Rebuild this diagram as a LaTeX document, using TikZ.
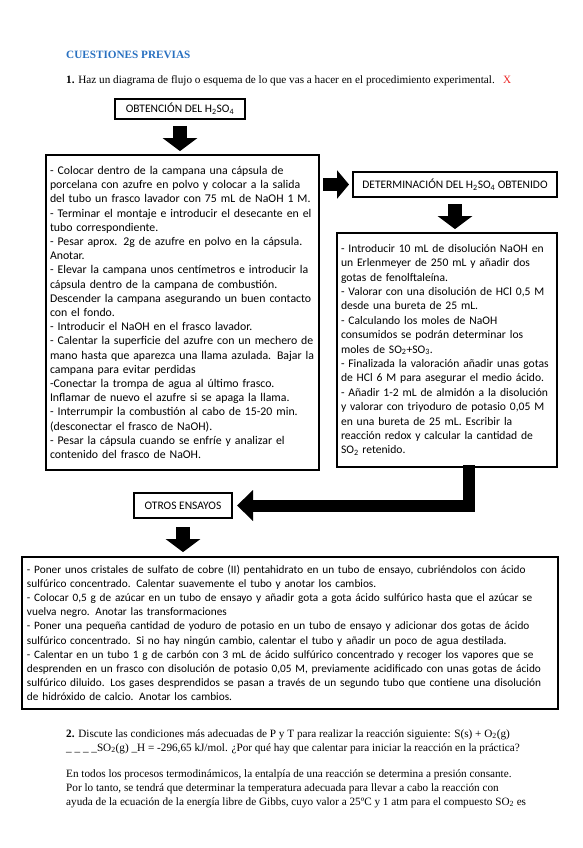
\documentclass[tikz,border=0pt]{standalone}
\usepackage{fontspec}
\setmainfont{Liberation Serif}
\newfontfamily\calibri{Carlito}
\usetikzlibrary{arrows.meta}

\definecolor{titleblue}{RGB}{40,112,192}
\definecolor{markred}{RGB}{235,35,35}

\tikzset{
  stepbox/.style={draw=black, line width=1.8pt, align=left, inner xsep=4pt, inner ysep=0pt,
    font=\calibri\fontsize{11.3}{14.2}\selectfont},
  headbox/.style={draw=black, line width=2pt, inner sep=0pt, font=\calibri\fontsize{11.5}{13}\selectfont},
  blockarrow/.style={line width=14pt, -{Triangle[width=34pt,length=13pt]}},
  qline/.style={anchor=base west, inner sep=0pt, font=\fontsize{11.2}{13}\selectfont},
}

\begin{document}
\begin{tikzpicture}[x=1pt, y=-1pt]
\useasboundingbox (0,0) rectangle (582,848);

\node[qline, font=\bfseries\fontsize{11.2}{12}\selectfont, text=titleblue] (cuest) at (66,59) {CUESTIONES PREVIAS};
\node[qline] (q1) at (66,84) {\textbf{1.} Haz un diagrama de flujo o esquema de lo que vas a hacer en el procedimiento experimental.};
\node[qline, text=markred] (mark) at ([xshift=8pt]q1.base east) {X};

% boxes
\node[headbox, minimum width=130pt, minimum height=20pt] (obt) at (180,109) {OBTENCIÓN DEL H\textsubscript{2}SO\textsubscript{4}};
\node[stepbox, text width=265pt, minimum height=315pt, font=\calibri\fontsize{11.8}{14.2}\selectfont] (proc) at (182.5,312.5) {%
- Colocar dentro de la campana una cápsula de\\
porcelana con azufre en polvo y colocar a la salida\\
del tubo un frasco lavador con 75 mL de NaOH 1 M.\\
- Terminar el montaje e introducir el desecante en el\\
tubo correspondiente.\\
- Pesar aprox. 2g de azufre en polvo en la cápsula.\\
Anotar.\\
- Elevar la campana unos centímetros e introducir la\\
cápsula dentro de la campana de combustión.\\
Descender la campana asegurando un buen contacto\\
con el fondo.\\
- Introducir el NaOH en el frasco lavador.\\
- Calentar la superficie del azufre con un mechero de\\
mano hasta que aparezca una llama azulada. Bajar la\\
campana para evitar perdidas\\
-Conectar la trompa de agua al último frasco.\\
Inflamar de nuevo el azufre si se apaga la llama.\\
- Interrumpir la combustión al cabo de 15-20 min.\\
(desconectar el frasco de NaOH).\\
- Pesar la cápsula cuando se enfríe y analizar el\\
contenido del frasco de NaOH.};
\node[headbox, minimum width=204pt, minimum height=25pt] (det) at (455,184.5) {DETERMINACIÓN DEL H\textsubscript{2}SO\textsubscript{4} OBTENIDO};
\node[stepbox, text width=212pt, minimum height=234pt, font=\calibri\fontsize{11.6}{14.4}\selectfont] (valor) at (447,350) {%
- Introducir 10 mL de disolución NaOH en\\
un Erlenmeyer de 250 mL y añadir dos\\
gotas de fenolftaleína.\\
- Valorar con una disolución de HCl 0,5 M\\
desde una bureta de 25 mL.\\
- Calculando los moles de NaOH\\
consumidos se podrán determinar los\\
moles de SO\textsubscript{2}+SO\textsubscript{3}.\\
- Finalizada la valoración añadir unas gotas\\
de HCl 6 M para asegurar el medio ácido.\\
- Añadir 1-2 mL de almidón a la disolución\\
y valorar con triyoduro de potasio 0,05 M\\
en una bureta de 25 mL. Escribir la\\
reacción redox y calcular la cantidad de\\
SO\textsubscript{2} retenido.};
\node[headbox, minimum width=98pt, minimum height=25pt] (otros) at (183,505.5) {OTROS ENSAYOS};
\node[stepbox, text width=526pt, minimum height=152pt, inner xsep=5pt] (ensayos) at (290,633) {%
- Poner unos cristales de sulfato de cobre (II) pentahidrato en un tubo de ensayo, cubriéndolos con ácido\\
sulfúrico concentrado. Calentar suavemente el tubo y anotar los cambios.\\
- Colocar 0,5 g de azúcar en un tubo de ensayo y añadir gota a gota ácido sulfúrico hasta que el azúcar se\\
vuelva negro. Anotar las transformaciones\\
- Poner una pequeña cantidad de yoduro de potasio en un tubo de ensayo y adicionar dos gotas de ácido\\
sulfúrico concentrado. Si no hay ningún cambio, calentar el tubo y añadir un poco de agua destilada.\\
- Calentar en un tubo 1 g de carbón con 3 mL de ácido sulfúrico concentrado y recoger los vapores que se\\
desprenden en un frasco con disolución de potasio 0,05 M, previamente acidificado con unas gotas de ácido\\
sulfúrico diluido. Los gases desprendidos se pasan a través de un segundo tubo que contiene una disolución\\
de hidróxido de calcio. Anotar los cambios.};

% arrows
\draw[blockarrow, shorten <=6pt, shorten >=3pt] (obt.south) -- (obt.south |- proc.north);
\draw[blockarrow, line width=13pt, -{Triangle[width=28pt,length=12pt]}, shorten <=3pt, shorten >=3pt] (proc.east |- det.west) -- (det.west);
\draw[blockarrow, shorten <=6pt, shorten >=3pt] (det.south) -- (det.south |- valor.north);
\draw[blockarrow, line width=12pt, -{Triangle[width=30pt,length=16pt]}, shorten >=4pt] ([xshift=22pt, yshift=3pt]valor.south) |- (otros.east);
\draw[blockarrow, shorten <=8pt, shorten >=4pt] (otros.south) -- (otros.south |- ensayos.north);

\node[qline] (q2a) at (66,737) {\textbf{2.} Discute las condiciones más adecuadas de P y T para realizar la reacción siguiente: S(s) + O\textsubscript{2}(g)};
\node[qline] (q2b) at (66,751) {\_ \_ \_ \_SO\textsubscript{2}(g) \_H = -296,65 kJ/mol. ¿Por qué hay que calentar para iniciar la reacción en la práctica?};
\node[qline] (ans1) at (66,777) {En todos los procesos termodinámicos, la entalpía de una reacción se determina a presión consante.};
\node[qline] (ans2) at (66,791) {Por lo tanto, se tendrá que determinar la temperatura adecuada para llevar a cabo la reacción con};
\node[qline] (ans3) at (66,805) {ayuda de la ecuación de la energía libre de Gibbs, cuyo valor a 25ºC y 1 atm para el compuesto SO\textsubscript{2} es};
\end{tikzpicture}
\end{document}
